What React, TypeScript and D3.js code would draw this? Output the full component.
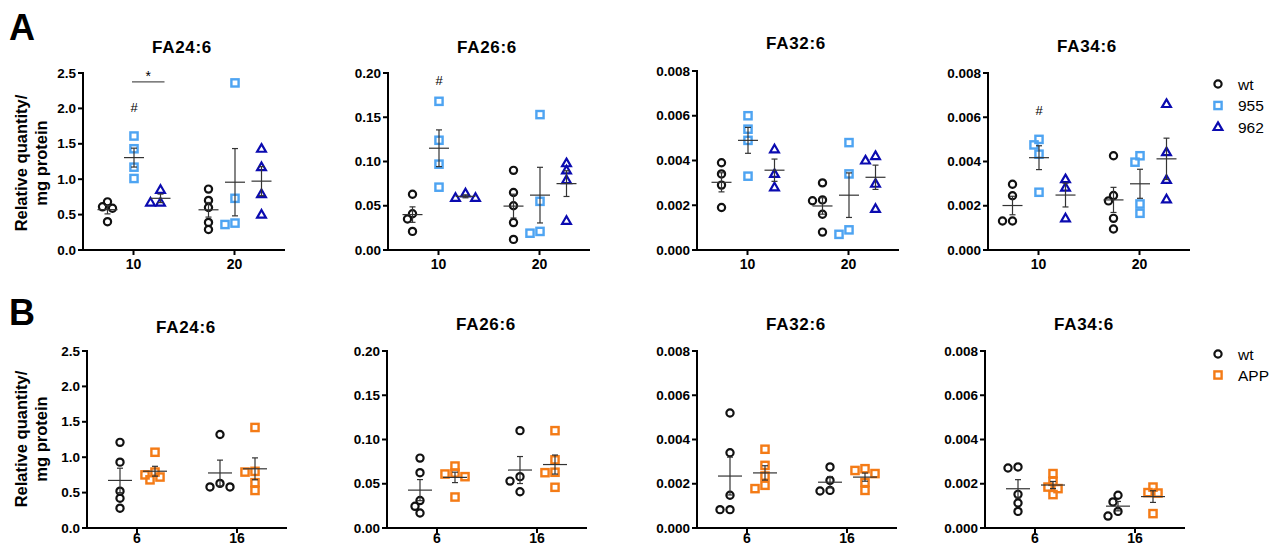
import React from 'react';
import * as d3 from 'd3';

// panel setup
const panelTitles = ['FA24:6', 'FA26:6', 'FA32:6', 'FA34:6'];
const yMaxes = [2.5, 0.2, 0.008, 0.008];
const ySteps = [0.5, 0.05, 0.002, 0.002];
const yFormats = ['.1f', '.2f', '.3f', '.3f'];

const groupsA = ['10', '20'];
const seriesA = ['wt', '955', '962'];
const groupsB = ['6', '16'];
const seriesB = ['wt', 'APP'];

// row A values, [group 10, group 20]
const a24_wt = [[0.59, 0.61, 0.68, 0.40], [0.86, 0.70, 0.60, 0.39, 0.29]];
const a24_955 = [[1.61, 1.43, 1.17, 1.01], [2.36, 0.73, 0.36, 0.38]];
const a24_962 = [[0.85, 0.67, 0.67], [1.43, 1.17, 0.79, 0.50]];

const a26_wt = [[0.063, 0.041, 0.035, 0.021], [0.090, 0.065, 0.050, 0.031, 0.012]];
const a26_955 = [[0.168, 0.124, 0.097, 0.071], [0.153, 0.055, 0.019, 0.021]];
const a26_962 = [[0.064, 0.059, 0.059], [0.098, 0.090, 0.079, 0.033]];

const a32_wt = [[0.0034, 0.0039, 0.0029, 0.0019], [0.0030, 0.0022, 0.00224, 0.0016, 0.0008]];
const a32_955 = [[0.0060, 0.0054, 0.0049, 0.0033], [0.0048, 0.0034, 0.0009, 0.0007]];
const a32_962 = [[0.0045, 0.0034, 0.0028], [0.0040, 0.0042, 0.00296, 0.00184]];

const a34_wt = [[0.00297, 0.00245, 0.00131, 0.00131], [0.00426, 0.00246, 0.00222, 0.00143, 0.00095]];
const a34_955 = [[0.0050, 0.00475, 0.00433, 0.00261], [0.00426, 0.00397, 0.00208, 0.00166]];
const a34_962 = [[0.0032, 0.00282, 0.00143], [0.0066, 0.00442, 0.00317, 0.00229]];

// row B values, [group 6, group 16]
const b24_wt = [[1.21, 0.93, 0.52, 0.42, 0.28], [1.32, 0.63, 0.58, 0.58]];
const b24_app = [[1.07, 0.75, 0.79, 0.68, 0.72], [1.42, 0.80, 0.79, 0.64, 0.53]];
const b26_wt = [[0.079, 0.0625, 0.031, 0.0245, 0.017], [0.110, 0.058, 0.053, 0.041]];
const b26_app = [[0.070, 0.061, 0.062, 0.058, 0.035], [0.110, 0.077, 0.063, 0.0625, 0.046]];
const b32_wt = [[0.0052, 0.0034, 0.00148, 0.00083, 0.00083], [0.00276, 0.00215, 0.00167, 0.0017]];
const b32_app = [[0.00356, 0.00283, 0.00235, 0.00193, 0.00178], [0.00268, 0.00246, 0.0026, 0.00206, 0.0017]];
const b34_wt = [[0.00271, 0.00276, 0.00152, 0.00113, 0.00075], [0.00148, 0.00118, 0.00075, 0.00054]];
const b34_app = [[0.00246, 0.00211, 0.00185, 0.00178, 0.00151], [0.00185, 0.00158, 0.0016, 0.00065]];

// significance marks (row A)
const hashMarks = [
  { panel: 0, group: '10', series: '955', value: 2.02 },
  { panel: 1, group: '10', series: '955', value: 0.192 },
  { panel: 3, group: '10', series: '955', value: 0.00634 },
];
const starBars = [{ panel: 0, group: '10', from: '955', to: '962', value: 2.374 }];

const rowA = [
  { wt: a24_wt, '955': a24_955, '962': a24_962 },
  { wt: a26_wt, '955': a26_955, '962': a26_962 },
  { wt: a32_wt, '955': a32_955, '962': a32_962 },
  { wt: a34_wt, '955': a34_955, '962': a34_962 },
];
const rowB = [
  { wt: b24_wt, APP: b24_app },
  { wt: b26_wt, APP: b26_app },
  { wt: b32_wt, APP: b32_app },
  { wt: b34_wt, APP: b34_app },
];

const colors = { wt: '#111111', '955': '#4ea4f2', '962': '#0b0bb0', APP: '#f47b16' };
const shapes = { wt: 'circle', '955': 'square', '962': 'triangle', APP: 'square' };

const FONT = '"Liberation Sans", Arial, sans-serif';

function Marker({ shape, x, y, color }) {
  if (shape === 'circle')
    return <circle cx={x} cy={y} r={3.6} fill="none" stroke={color} strokeWidth={2.2} />;
  if (shape === 'square')
    return <rect x={x - 3.6} y={y - 3.6} width={7.2} height={7.2} fill="none" stroke={color} strokeWidth={2.4} />;
  return (
    <path
      d={`M${x},${y - 4.6}L${x + 4.4},${y + 3}L${x - 4.4},${y + 3}Z`}
      fill="none"
      stroke={color}
      strokeWidth={2.2}
      strokeLinejoin="miter"
    />
  );
}

// simple beeswarm so overlapping points sit side by side
function dodge(vals, y, thr = 7, step = 5) {
  const order = vals.map((v, i) => i).sort((a, b) => vals[b] - vals[a]);
  const placed = [];
  const out = new Array(vals.length).fill(0);
  order.forEach((i) => {
    const py = y(vals[i]);
    for (let k = 0; k < 12; k++) {
      const off = k === 0 ? 0 : (k % 2 ? -1 : 1) * Math.ceil(k / 2) * step;
      const ok = placed.every((p) => Math.hypot(p.x - off, p.y - py) >= thr);
      if (ok) {
        placed.push({ x: off, y: py });
        out[i] = off;
        break;
      }
    }
  });
  return out;
}

function Panel({ idx, left, top, bottom, width, titleY, labelDy, groups, series, spread, data, meanHalf, hashes, stars }) {
  const x = d3.scaleBand().domain(groups).range([left, left + width]);
  const s = d3.scalePoint().domain(series).range(spread);
  const y = d3.scaleLinear().domain([0, yMaxes[idx]]).range([bottom, top]);
  const ticks = d3.range(0, yMaxes[idx] + ySteps[idx] / 2, ySteps[idx]);
  const fmt = d3.format(yFormats[idx]);
  const gx = (g) => x(g) + x.bandwidth() / 2;

  return (
    <g fontFamily={FONT}>
      <text x={left + 99} y={titleY} textAnchor="middle" fontSize={17} fontWeight="bold" letterSpacing={0.7}>
        {panelTitles[idx]}
      </text>
      {/* points */}
      {groups.map((g, gi) =>
        series.map((se) => {
          const vals = data[se][gi];
          const cx = gx(g) + s(se);
          const offs = dodge(vals, y);
          return vals.map((v, i) => (
            <Marker key={`${g}-${se}-${i}`} shape={shapes[se]} x={cx + offs[i]} y={y(v)} color={colors[se]} />
          ));
        })
      )}
      {/* mean +- SEM */}
      {groups.map((g, gi) =>
        series.map((se) => {
          const vals = data[se][gi];
          const m = d3.mean(vals);
          const sem = d3.deviation(vals) / Math.sqrt(vals.length);
          const cx = gx(g) + s(se);
          return (
            <g key={`m-${g}-${se}`} stroke="#333" strokeWidth={1.2}>
              <line x1={cx - meanHalf} x2={cx + meanHalf} y1={y(m)} y2={y(m)} />
              <line x1={cx} x2={cx} y1={y(m - sem)} y2={y(m + sem)} />
              <line x1={cx - 3} x2={cx + 3} y1={y(m - sem)} y2={y(m - sem)} />
              <line x1={cx - 3} x2={cx + 3} y1={y(m + sem)} y2={y(m + sem)} />
            </g>
          );
        })
      )}
      {hashes.map((h, i) => (
        <text key={`h${i}`} x={gx(h.group) + s(h.series)} y={y(h.value) + 5} textAnchor="middle" fontSize={13}>
          #
        </text>
      ))}
      {stars.map((h, i) => {
        const x1 = gx(h.group) + s(h.from) - 2;
        const x2 = gx(h.group) + s(h.to) + 4;
        return (
          <g key={`s${i}`}>
            <line x1={x1} x2={x2} y1={y(h.value)} y2={y(h.value)} stroke="#555" strokeWidth={1.3} />
            <text x={(x1 + x2) / 2} y={y(h.value) - 1} textAnchor="middle" fontSize={14}>
              *
            </text>
          </g>
        );
      })}
      {/* y axis */}
      <line x1={left} x2={left} y1={top - 1} y2={bottom + 1} stroke="#000" strokeWidth={2} />
      {ticks.map((t) => (
        <g key={`yt${t}`}>
          <line x1={left - 5} x2={left} y1={y(t)} y2={y(t)} stroke="#000" strokeWidth={2} />
          <text x={left - 7} y={y(t) + 4.5} textAnchor="end" fontSize={13.5} fontWeight="bold">
            {fmt(t)}
          </text>
        </g>
      ))}
      {/* x axis */}
      <line x1={left - 1} x2={left + width} y1={bottom} y2={bottom} stroke="#000" strokeWidth={2} />
      {groups.map((g) => (
        <g key={`xt${g}`}>
          <line x1={gx(g)} x2={gx(g)} y1={bottom} y2={bottom + 5} stroke="#000" strokeWidth={2} />
          <text x={gx(g)} y={bottom + labelDy} textAnchor="middle" fontSize={14} fontWeight="bold">
            {g}
          </text>
        </g>
      ))}
    </g>
  );
}

function Legend({ x, y0, dy, series }) {
  return (
    <g fontFamily={FONT}>
      {series.map((se, i) => (
        <g key={se}>
          <Marker shape={shapes[se]} x={x} y={y0 + i * dy} color={colors[se]} />
          <text x={x + 20} y={y0 + i * dy + 5.5} fontSize={15.5}>
            {se}
          </text>
        </g>
      ))}
    </g>
  );
}

const leftsA = [83, 388, 697, 988];
const leftsB = [87, 387, 697, 985];
const titleYA = [53, 53, 49, 52];
const titleYB = [333, 330, 330, 330];

export default function App() {
  return (
    <svg
      width={1277}
      height={547}
      style={{ position: 'absolute', left: 0, top: 0, background: '#fff' }}
      fontFamily={FONT}
    >
      <rect width={1277} height={547} fill="#fff" />
      <text x={9} y={40} fontSize={36} fontWeight="bold">A</text>
      <text x={9} y={325} fontSize={36} fontWeight="bold">B</text>

      {[163, 439].map((cy, i) => (
        <g key={`yl${i}`} fontWeight="bold" fontSize={16.5} textAnchor="middle">
          <text transform={`translate(27,${cy}) rotate(-90)`}>Relative quantity/</text>
          <text transform={`translate(47,${cy}) rotate(-90)`}>mg protein</text>
        </g>
      ))}

      {rowA.map((d, i) => (
        <Panel
          key={`A${i}`}
          idx={i}
          left={leftsA[i]}
          top={i === 2 ? 71 : 73}
          bottom={250}
          width={202}
          titleY={titleYA[i]}
          labelDy={19}
          groups={groupsA}
          series={seriesA}
          spread={[-26, 27]}
          data={d}
          meanHalf={10}
          hashes={hashMarks.filter((h) => h.panel === i)}
          stars={starBars.filter((h) => h.panel === i)}
        />
      ))}
      {rowB.map((d, i) => (
        <Panel
          key={`B${i}`}
          idx={i}
          left={leftsB[i]}
          top={351}
          bottom={528}
          width={200}
          titleY={titleYB[i]}
          labelDy={15}
          groups={groupsB}
          series={seriesB}
          spread={[-17, 18]}
          data={d}
          meanHalf={12}
          hashes={[]}
          stars={[]}
        />
      ))}

      <Legend x={1218} y0={84} dy={21.5} series={seriesA} />
      <Legend x={1218} y0={354} dy={21} series={seriesB} />
    </svg>
  );
}
